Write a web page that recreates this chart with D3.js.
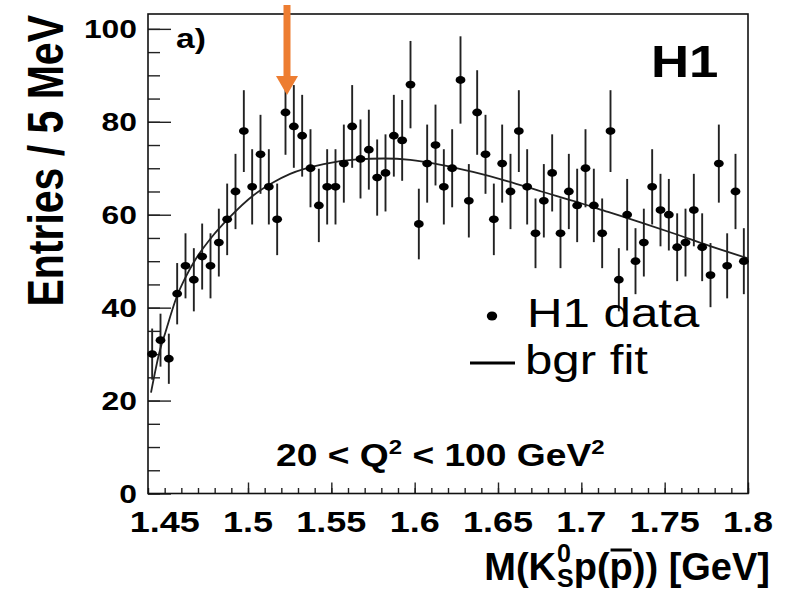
<!DOCTYPE html>
<html><head><meta charset="utf-8">
<script src="https://cdn.jsdelivr.net/npm/d3@7/dist/d3.min.js"></script>
<style>body{margin:0;background:#fff}</style>
</head><body>
<svg id="c" width="790" height="591"></svg>
<script>
// ---- data ----
const firstBinCenter = 1.4425, binWidth = 0.005;
const entries = [30,33,29,43,49,46,51,49,54,59,65,78,66,73,66,59,82,79,77,70,62,66,66,71,79,72,74,68,69,77,76,88,58,71,75,66,70,89,63,82,73,59,71,65,78,66,56,63,69,56,65,62,70,62,56,78,46,60,50,54,66,61,60,53,54,61,53,47,71,49,65,50];
const errors = [5.5,5.7,5.4,6.6,7.0,6.8,7.1,7.0,7.3,7.7,8.1,8.8,8.1,8.5,8.1,7.7,9.1,8.9,8.8,8.4,7.9,8.1,8.1,8.4,8.9,8.5,8.6,8.2,8.3,8.8,8.7,9.4,7.6,8.4,8.7,8.1,8.4,9.4,7.9,9.1,8.5,7.7,8.4,8.1,8.8,8.1,7.5,7.9,8.3,7.5,8.1,7.9,8.4,7.9,7.5,8.8,6.8,7.7,7.1,7.3,8.1,7.8,7.7,7.3,7.3,7.8,7.3,6.9,8.4,7.0,8.1,7.1];
const fitX = [1.4418,1.4472,1.4502,1.4572,1.4622,1.4682,1.4783,1.4883,1.5033,1.5153,1.5253,1.5454,1.5654,1.5814,1.5974,1.615,1.635,1.656,1.676,1.696,1.716,1.736,1.756,1.776,1.800];
const fitY = [21.7,30.9,34.4,42.3,46.3,50.2,55.2,59.2,64.2,67.0,68.8,70.9,71.9,72.1,71.8,70.8,69.2,67.2,65.0,62.9,60.6,58.3,55.9,53.4,50.6];
const xTickValues = [1.45,1.5,1.55,1.6,1.65,1.7,1.75,1.8];
const xTickLabels = ["1.45","1.5","1.55","1.6","1.65","1.7","1.75","1.8"];
const yTickValues = [0,20,40,60,80,100];
const yTickLabels = ["0","20","40","60","80","100"];
const markedBin = 16; // index of the bin under the arrow

// ---- layout ----
const L = 148, R = 748, T = 14, B = 493.5;
const SX = 1.2; // horizontal stretch of the text in the reference
const FONT = "'Liberation Sans', Arial, Helvetica, sans-serif";
const svg = d3.select("#c");
svg.append("rect").attr("width",790).attr("height",591).attr("fill","#fff");

const x = d3.scaleLinear().domain([1.44, 1.80]).range([L, R]);
const y = d3.scaleLinear().domain([0, 103.2]).range([B, T]);

const binCenters = entries.map((_, i) => firstBinCenter + i * binWidth);

function txt(px, py, str, size, weight, anchor, extra, sx) {
  const t = svg.append("text")
    .attr("transform", `translate(${px},${py}) scale(${sx || SX},1)` + (extra || ""))
    .attr("font-family", FONT).attr("font-size", size)
    .attr("font-weight", weight).attr("text-anchor", anchor)
    .attr("fill", "#000").text(str);
  return t;
}

// ---- axes ticks ----
const minorY = d3.range(0, 101, 5);
svg.append("g").attr("transform", `translate(${L},0)`)
  .call(d3.axisLeft(y).tickValues(minorY).tickSize(-12).tickFormat(""))
  .call(g => g.select(".domain").remove())
  .selectAll("line").attr("stroke", "#222").attr("stroke-width", 1.4);
svg.append("g").attr("transform", `translate(${L},0)`)
  .call(d3.axisLeft(y).tickValues(yTickValues).tickSize(-23).tickFormat(""))
  .call(g => g.select(".domain").remove())
  .selectAll("line").attr("stroke", "#222").attr("stroke-width", 1.4);

const minorX = d3.range(0, 37).map(i => 1.44 + i * 0.01);
svg.append("g").attr("transform", `translate(0,${B})`)
  .call(d3.axisBottom(x).tickValues(minorX).tickSize(-5.5).tickFormat(""))
  .call(g => g.select(".domain").remove())
  .selectAll("line").attr("stroke", "#222").attr("stroke-width", 1.4);
svg.append("g").attr("transform", `translate(0,${B})`)
  .call(d3.axisBottom(x).tickValues(xTickValues.slice(1)).tickSize(-11).tickFormat(""))
  .call(g => g.select(".domain").remove())
  .selectAll("line").attr("stroke", "#222").attr("stroke-width", 1.4);

// frame
svg.append("rect").attr("x", L).attr("y", T).attr("width", R - L).attr("height", B - T)
  .attr("fill", "none").attr("stroke", "#111").attr("stroke-width", 1.6);

// tick labels
yTickValues.forEach((v, i) => txt(137, y(v) + 9.5, yTickLabels[i], 26.5, "bold", "end"));
xTickValues.forEach((v, i) => txt(x(v), 532, xTickLabels[i], 30, "bold", "middle"));

// ---- fit curve ----
svg.append("path")
  .datum(fitX.map((d, i) => [d, fitY[i]]))
  .attr("fill", "none").attr("stroke", "#222").attr("stroke-width", 1.8)
  .attr("d", d3.line().x(d => x(d[0])).y(d => y(d[1])).curve(d3.curveMonotoneX));

// ---- data points ----
const pts = svg.append("g");
pts.selectAll("line.err").data(entries).join("line")
  .attr("x1", (d, i) => x(binCenters[i])).attr("x2", (d, i) => x(binCenters[i]))
  .attr("y1", (d, i) => y(d - errors[i])).attr("y2", (d, i) => y(d + errors[i]))
  .attr("stroke", "#222").attr("stroke-width", 1.9);
pts.selectAll("ellipse").data(entries).join("ellipse")
  .attr("cx", (d, i) => x(binCenters[i])).attr("cy", d => y(d))
  .attr("rx", 4.9).attr("ry", 3.9).attr("fill", "#000");

// ---- arrow ----
const ax = x(binCenters[markedBin]) + 1.5;
svg.append("rect").attr("x", ax - 3.5).attr("y", 5).attr("width", 7).attr("height", 72)
  .attr("fill", "#ED7D31");
svg.append("path").attr("d", `M${ax - 11},76 L${ax + 11},76 L${ax},95 Z`).attr("fill", "#ED7D31");

// ---- texts ----
txt(176, 48, "a)", 28, "bold", "start");
txt(651, 77, "H1", 44, "bold", "start");

// legend
svg.append("ellipse").attr("cx", 492).attr("cy", 316).attr("rx", 5.2).attr("ry", 4.6).attr("fill", "#000");
txt(527, 327, "H1 data", 40, "normal", "start", "", 1.23);
svg.append("line").attr("x1", 470).attr("x2", 515).attr("y1", 363).attr("y2", 363)
  .attr("stroke", "#000").attr("stroke-width", 3);
txt(525, 374, "bgr fit", 40, "normal", "start", "", 1.23);

// Q2 label
{
  const t = txt(276, 466, "", 31, "bold", "start");
  t.append("tspan").text("20 < Q");
  t.append("tspan").attr("font-size", 20).attr("dy", -12).text("2");
  t.append("tspan").attr("dy", 12).text(" < 100 GeV");
  t.append("tspan").attr("font-size", 20).attr("dy", -12).text("2");
}

// y title
txt(63, 15, "Entries / 5 MeV", 41, "bold", "end", " rotate(-90)");

// x title: M(K^0_S p(p̄)) [GeV] — drawn as one text with tspans
{
  const base = 580, fs = 38;
  const t = svg.append("text")
    .attr("font-family", FONT).attr("font-size", fs).attr("font-weight", "bold")
    .attr("text-anchor", "end").attr("x", 770).attr("y", base).attr("fill", "#000");
  t.append("tspan").text("M(K");
  const sup = t.append("tspan").attr("font-size", 25).attr("dx", 1).attr("dy", -18).text("0");
  const sub = t.append("tspan").attr("font-size", 25).attr("dy", 25).text("S");
  t.append("tspan").attr("dy", -7).text("p(");
  const pbar = t.append("tspan").text("p");
  t.append("tspan").text(")) [GeV]");
  // place the subscript under the superscript
  const w0 = sup.node().getComputedTextLength();
  const wS = sub.node().getComputedTextLength();
  sub.attr("dx", -w0);
  const extra = Math.max(0, wS - w0);
  // overline above the barred p
  const node = t.node();
  const full = node.textContent;
  const idx = full.indexOf("p(") + 2;
  const s = node.getStartPositionOfChar(idx), e = node.getEndPositionOfChar(idx);
  svg.append("line").attr("x1", s.x + 1).attr("x2", e.x - 1).attr("y1", base - 30).attr("y2", base - 30)
    .attr("stroke", "#000").attr("stroke-width", 3);
}
</script>
</body></html>
